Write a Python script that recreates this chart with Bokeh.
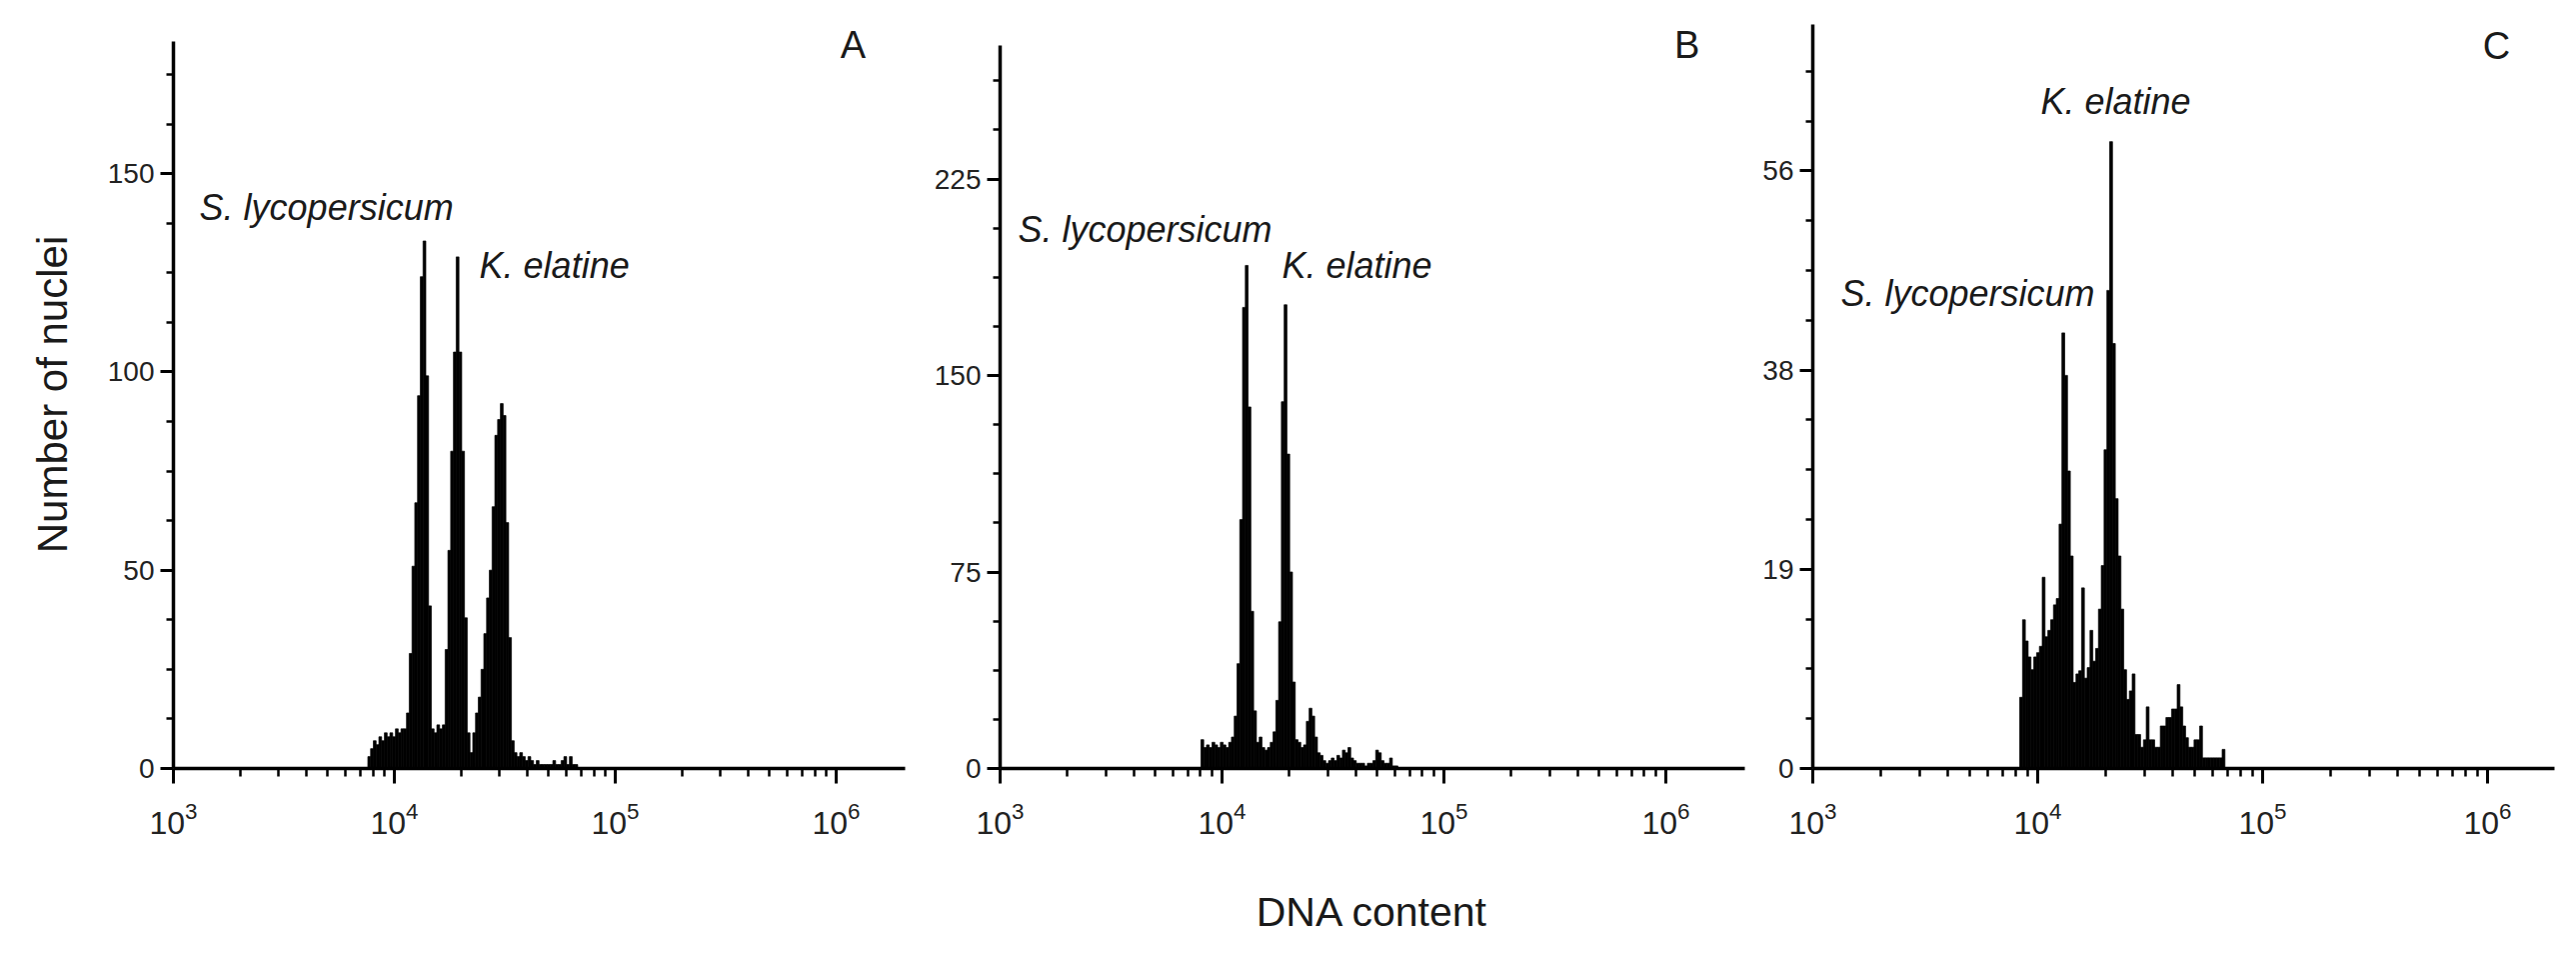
from bokeh.plotting import figure
from bokeh.layouts import row
from bokeh.models import (FixedTicker, Label, Range1d, CustomJSTickFormatter,
                          ColumnDataSource)
from bokeh.embed import file_html
from bokeh.resources import INLINE

FONT = "Liberation Sans"

# ---------------- data ----------------
# flow-cytometry channels, equal width in log10(DNA content)
CHANNEL_WIDTH = 0.0125

A_LOG_START = 3.880
A_COUNTS = [3, 5, 7, 6, 8, 7, 9, 8, 9, 8, 10, 9, 10, 10,
            14, 29, 51, 67, 94, 124, 133, 99, 41,
            10, 9, 11, 10, 11,
            30, 55, 80, 105, 129, 105, 80, 38, 9,
            4, 9, 14, 18, 25, 34, 43, 50, 66, 84, 88, 92, 89, 62, 33, 7,
            4, 3, 4, 3, 2, 3, 2, 1, 2, 1, 1, 1, 1, 1, 2, 1, 1, 2, 3, 1, 3, 1, 1]

B_LOG_START = 3.905
B_COUNTS = [11, 8, 9, 8, 10, 9, 8, 10, 9, 8, 10,
            12, 20, 40, 95, 176, 192, 138, 60, 22, 10,
            12, 8, 7, 8, 10, 14,
            26, 56, 140, 177, 120, 75, 33,
            11, 10, 8, 9, 18, 23, 20, 12,
            6, 5, 3, 2, 3, 4, 3, 5, 4, 7, 6, 8, 4, 3, 2, 2, 2, 1, 2, 2, 3, 7, 6,
            3, 2, 2, 4, 1, 1]

C_LOG_START = 3.920
C_COUNTS = [6.7, 14, 12, 10.5, 9.3, 10.5, 10.9, 11.5, 18, 12.4, 13, 14, 15.4, 16,
            23, 41, 37, 28, 20, 8.1,
            8.9, 9.2, 17, 8.5, 9.5, 13, 10.1, 11.3, 15,
            19.1, 30, 45, 59, 40, 25.4, 20, 15,
            9.3, 6.5, 7.3, 8.9, 3.2, 3.2, 2, 2.7, 5.8, 2.7, 2.7, 2, 2,
            4, 4, 4.8, 4.8, 5.6, 5.6, 7.9, 5.8, 4, 2.9, 2, 2, 2.7, 2.7, 4,
            1, 1, 1, 1, 1, 1, 1, 1.8]

A_Y_TICKS = [0, 50, 100, 150]
B_Y_TICKS = [0, 75, 150, 225]
C_Y_TICKS = [0, 18.75, 37.5, 56.25]
A_Y_AXIS_TOP = 183.3
B_Y_AXIS_TOP = 276.0
C_Y_AXIS_TOP = 70.0
X_TICKS = [1e3, 1e4, 1e5, 1e6]

SPECIES_1 = "S. lycopersicum"
SPECIES_2 = "K. elatine"
Y_LABEL = "Number of nuclei"
X_LABEL = "DNA content"

# ---------------- layout ----------------
BOTTOM = 170
TOP = 20
FRAME_H = 748
X_START = 1e3


def panel(log_start, counts, y_top, axis_top, y_ticks, lb, fw, rb, decades):
    p = figure(width=lb + fw + rb, height=TOP + FRAME_H + BOTTOM,
               x_axis_type="log",
               x_range=Range1d(X_START, X_START * 10 ** decades),
               y_range=Range1d(0, y_top),
               output_backend="svg", toolbar_location=None,
               min_border_left=lb, min_border_right=rb,
               min_border_top=TOP, min_border_bottom=BOTTOM,
               background_fill_color="white", border_fill_color="white")
    n = len(counts)
    edges = [log_start + CHANNEL_WIDTH * i for i in range(n + 1)]
    src = ColumnDataSource(dict(
        left=[10 ** e for e in edges[:-1]],
        right=[10 ** e for e in edges[1:]],
        top=counts,
        bottom=[0] * n))
    p.quad(left="left", right="right", top="top", bottom="bottom", source=src,
           fill_color="black", line_color="black", line_width=0.7)
    p.grid.visible = False
    p.outline_line_color = None

    step = y_ticks[1] / 4.0
    minors = []
    v = step
    while v < axis_top:
        minors.append(v)
        v += step
    p.yaxis.ticker = FixedTicker(ticks=y_ticks, minor_ticks=minors)
    p.yaxis.bounds = (0, axis_top)
    p.xaxis.ticker = FixedTicker(
        ticks=X_TICKS,
        minor_ticks=[m * 10 ** e for e in (3, 4, 5) for m in range(2, 10)])

    for ax in (p.xaxis[0], p.yaxis[0]):
        ax.axis_line_color = "black"
        ax.axis_line_width = 3.5
        ax.major_tick_line_color = "black"
        ax.minor_tick_line_color = "black"
        ax.major_tick_line_width = 3
        ax.minor_tick_line_width = 2.5
        ax.major_tick_in = 0
        ax.minor_tick_in = 0
        ax.major_label_text_color = "#222222"
        ax.major_label_text_font = FONT
    p.xaxis.major_tick_out = 15
    p.xaxis.minor_tick_out = 8
    p.xaxis.major_label_text_font_size = "32px"
    p.xaxis.major_label_standoff = 18
    p.yaxis.major_tick_out = 13
    p.yaxis.minor_tick_out = 7
    p.yaxis.major_label_text_font_size = "28px"
    p.yaxis.major_label_standoff = 6
    return p


def lab(p, x, y, text, size, style="normal", align="left"):
    p.add_layout(Label(x=x, y=y, text=text, text_font=FONT,
                       text_font_size=size, text_font_style=style,
                       text_color="#1a1a1a", text_align=align,
                       text_baseline="middle"))


# frames: A 173-905, B 1000-1745, C 1813-2555 (page px); zero line at y=768
pA = panel(A_LOG_START, A_COUNTS, 188.6, A_Y_AXIS_TOP, A_Y_TICKS, 173, 732, 23, 732 / 221)
pB = panel(B_LOG_START, B_COUNTS, 285.5, B_Y_AXIS_TOP, B_Y_TICKS, 72, 745, 5, 745 / 222)
pC = panel(C_LOG_START, C_COUNTS, 70.4, C_Y_AXIS_TOP, C_Y_TICKS, 63, 742, 10, 742 / 225)

pC.yaxis.formatter = CustomJSTickFormatter(code="return Math.round(tick).toString();")

pA.yaxis.axis_label = Y_LABEL
pA.yaxis.axis_label_text_font = FONT
pA.yaxis.axis_label_text_font_size = "42px"
pA.yaxis.axis_label_text_font_style = "normal"
pA.yaxis.axis_label_text_color = "#1a1a1a"
pA.yaxis.axis_label_standoff = 29

pB.xaxis.axis_label = X_LABEL
pB.xaxis.axis_label_text_font = FONT
pB.xaxis.axis_label_text_font_size = "41px"
pB.xaxis.axis_label_text_font_style = "normal"
pB.xaxis.axis_label_text_color = "#1a1a1a"
pB.xaxis.axis_label_standoff = 52

# species annotations
lab(pA, 10 ** 3.118, 141.4, SPECIES_1, "36px", "italic")
lab(pA, 10 ** 4.385, 126.8, SPECIES_2, "36px", "italic")
lab(pB, 10 ** 3.081, 205.7, SPECIES_1, "36px", "italic")
lab(pB, 10 ** 4.270, 192.0, SPECIES_2, "36px", "italic")
lab(pC, 10 ** 3.124, 44.7, SPECIES_1, "36px", "italic")
lab(pC, 10 ** 4.013, 62.8, SPECIES_2, "36px", "italic")

# panel letters
lab(pA, 10 ** 6.077, 182.5, "A", "38px", align="center")
lab(pB, 10 ** 6.095, 276.3, "B", "38px", align="center")
lab(pC, 10 ** 6.040, 68.0, "C", "38px", align="center")

layout = row(pA, pB, pC)
open("out.html", "w").write(file_html(layout, INLINE))
